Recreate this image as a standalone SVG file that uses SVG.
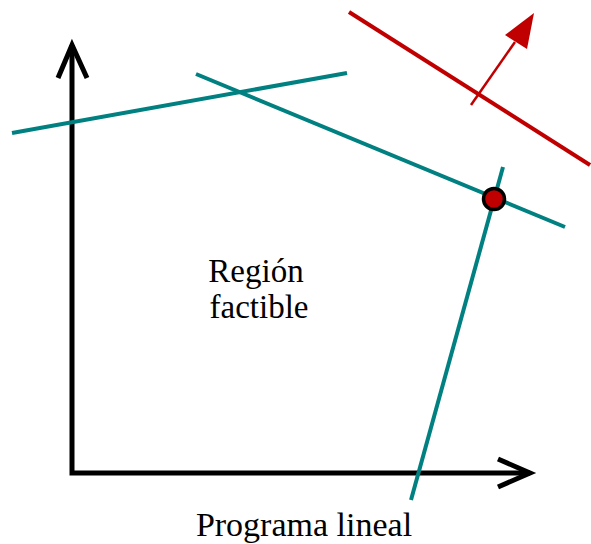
<svg xmlns="http://www.w3.org/2000/svg" width="591" height="544" viewBox="0 0 591 544">
<style>
.axis{stroke:#000;stroke-width:5;fill:none;stroke-linecap:butt;stroke-linejoin:miter}
.teal{stroke:#008080;stroke-width:4;fill:none}
.red{stroke:#c00000;fill:none}
.lbl{font-family:"Liberation Serif","Times New Roman",serif;font-size:33px;fill:#000;text-anchor:middle}
</style>
<rect width="591" height="544" fill="#fff"/>
<g id="connectors">
<polyline class="axis" points="72,45 72,473 530,473"/>
<polyline class="axis" points="58,78 72,45 87,78"/>
<polyline class="axis" points="498,459 530,473 498,487"/>
<line class="teal" x1="12" y1="133" x2="347" y2="73"/>
<line class="teal" x1="196" y1="74" x2="565" y2="227"/>
<line class="teal" x1="503" y1="167" x2="411" y2="500"/>
<line class="red" stroke-width="4" x1="349" y1="12" x2="590" y2="165"/>
<line class="red" stroke-width="2.5" x1="471" y1="105" x2="515" y2="42"/>
<polygon points="534,13 527,49 505,35" fill="#c00000"/>
</g>
<g id="optimum">
<circle cx="494" cy="199" r="10.5" fill="#c00000" stroke="#000" stroke-width="3.5"/>
</g>
<g id="region">
<text class="lbl" x="256" y="282">Región</text>
<text class="lbl" x="259" y="318">factible</text>
</g>
<g id="title">
<text class="lbl" x="304" y="536" style="font-size:34px">Programa lineal</text>
</g>
</svg>
